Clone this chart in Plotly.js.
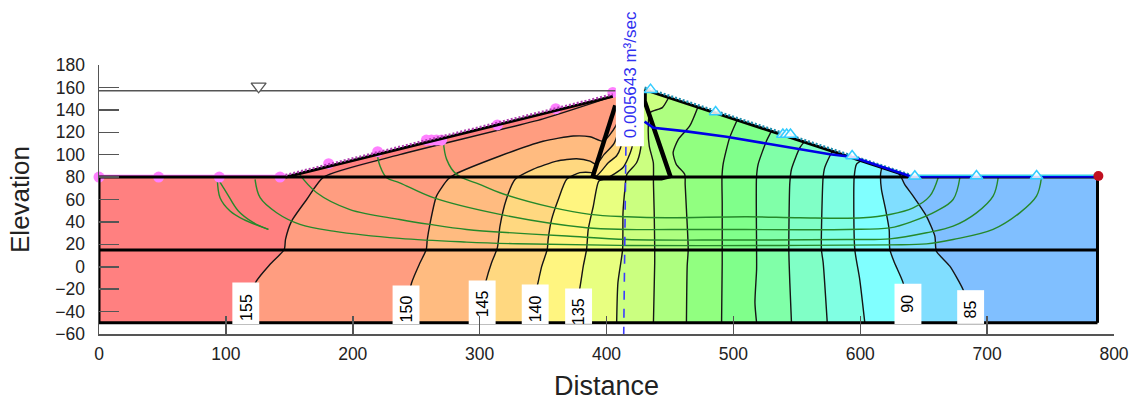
<!DOCTYPE html>
<html><head><meta charset="utf-8">
<script src="https://cdn.plot.ly/plotly-3.0.1.min.js"></script>
<style>html,body{margin:0;padding:0;background:#fff}#g{width:1131px;height:401px}</style>
</head><body><div id="g"></div>
<script>
// ground surface and domain
const surfaceX=[147,405,430,640,787], surfaceY=[80,152,158,80,80];
const domainX=[0,147,405,430,640,787,787,0], domainY=[80,80,152,158,80,80,-50,-50];
const rightEdge=787, bottomEdge=-50, groundLevel=80, layerLevel=15, waterLevel=157;
// head contours: [distance, elevation], bottom to top
const c155=[[112,-50],[124,-12.9],[134.7,2],[146,15.4],[147,24.4],[151.8,40.7],[163.7,60],[177,80],[237,100],[350,132],[405,152]];
const c150=[[240,-50],[246.4,-14.3],[253,3.5],[258,15.5],[258.7,24],[261,39],[266,63],[275,78],[280.5,82.4],[316,98.8],[350,112],[373.8,116.6],[387,116],[397.4,112],[407,125],[416,156]];
const c145=[[298,-50],[305,-12.8],[309.4,3.5],[314,17],[316,36],[321,60],[328,78],[342,86.9],[360.7,94.3],[376.4,96.4],[387,94.3],[392,91.3],[398,100],[406,110],[418,157]];
const c140=[[339,-50],[345.7,-15.8],[349,0.6],[353.3,15.5],[354,24.4],[356.7,42],[362,60],[368.6,78],[379,84],[388,84],[392,81],[401.4,92.8],[408,99],[411,106],[420,157]];
const c135=[[373,-50],[379,-18.8],[381.7,0.6],[384.3,15.5],[385.6,33.3],[389.6,54],[394,76.5],[400,78.8],[413,88.5],[420,106],[423,157]];
const c130=[[408,-50],[409,-14.3],[412.7,15.5],[413,48],[414.5,69],[416,82.4],[423.7,92.8],[427,106],[428,157.5]];
const c125=[[437,-50],[438,3.5],[438,15.5],[437.6,48],[437,75],[436.9,92.8],[433.7,107.7],[432.9,124],[434.2,137.5],[444,142],[449,151]];
const c120=[[463,-50],[463.6,0.6],[464.4,15.5],[463,51],[462,73.5],[461.7,82.4],[455,91.4],[452.5,101.8],[456.6,113.7],[465.6,125.6],[472,142.4]];
const c115=[[490.7,-50],[491.2,3.5],[491.2,15.5],[491.2,57],[491,79.4],[491.9,91.4],[497,115],[503,131]];
const c110=[[518.3,-50],[517,-32],[518.3,-2.4],[518.3,15.5],[518.2,79.4],[519.5,91.4],[526,112],[530,121]];
const c105=[[545.8,-50],[544.5,-14.4],[543.7,15.4],[544.5,75],[545.8,87],[552.3,106],[556,111.6]];
const c100=[[574,-50],[570.8,3.5],[569.4,15.4],[570,60],[570.7,79.4],[572,88.4],[576,98.8],[578,103]];
const c95=[[603.6,-50],[599.6,-11.4],[595.7,15.4],[594.9,60],[595.2,80],[597,91.4],[601,94.6]];
const c90=[[640,-50],[633.8,-14.4],[627,3.5],[623.3,15.4],[622.8,33],[620,51],[616.7,69],[616,82.4],[617,88.6]];
const c85=[[690,-50],[681,-20.3],[670.6,0.5],[660,13.9],[658.8,27.3],[652.2,45],[641.7,63],[635,73.4],[632.5,79.4],[630,83.8]];
const headContours=[c155,c150,c145,c140,c135,c130,c125,c120,c115,c110,c105,c100,c95,c90,c85];
const bandColors=['#ff8080','#ff9d80','#ffbb80','#ffd880','#fff580','#e8ff80','#cbff80','#aeff80','#91ff80','#80ff8b','#80ffa8','#80ffc6','#80ffe3','#80ffff','#80deff','#80bfff'];
// flow paths
const flowA=[[94,78],[100.6,66],[109.8,49.7],[121.7,39.3],[133.5,33.3]];
const flowB=[[93.3,78],[95.4,61.6],[103.3,49.7],[113.8,42.2],[133.5,33.3]];
const flow1=[[271.4,112],[274,95.8],[281.8,82.4],[300,73.5],[316,66],[358,52.7],[387,46.7],[416,44.6],[447.4,43.7],[510.4,44.6],[552.4,43.7],[602.3,43.7],[623.3,46.6],[641.7,52.6],[654.8,63],[661.4,79.4]];
const flow2=[[219,101.8],[221.5,89.8],[226.7,79.4],[237,74.9],[263.5,61.6],[316,46.7],[384.3,34.8],[416,33.3],[473.6,33.3],[589,33.3],[623.3,34.7],[641.7,40.7],[660,49.6],[673.2,60],[678.5,79.4]];
const flow3=[[157,84],[171.6,66],[197.8,51],[237,42.2],[260.8,37.8],[289.7,33.3],[329,30],[368.6,27.4],[416,24.3],[480,23.8],[589,24.3],[623.3,24.9],[652.2,30.3],[673.2,36.2],[691.6,48.1],[704.7,63],[708.7,79.4]];
const flow4=[[123,78],[127,61.6],[140,48.2],[158.4,37.8],[184.7,31.8],[237,25.3],[289.7,22],[330,20.5],[416,19],[536.6,19],[623.3,19.5],[652.2,20.4],[673.2,24.3],[704.7,33.3],[725.7,48.1],[738.9,63],[742.8,79.4]];
const flowPaths=[flowA,flowB,flow1,flow2,flow3,flow4];
// structure
const coreLeft=[[389,80],[407,144]], coreRight=[[430,158],[430,148],[450.5,80]];
const cutoff=[[389,80],[394.8,78],[443.4,78],[450.5,80]];
const phreaticX=[430,437,463,494.5,526,552.3,576,594,640,787], phreaticY=[129.5,124,120.8,116,110,104.7,100.3,98,80.5,80.5];
const fluxLineX=[415.3,413.5], fluxLineY=[107,-67.7];
// boundary-condition markers
const headMarkX=[0,47,94.8,142.7,181,219.6,258,262,266,270,314,360,405], headMarkY=[80,80,80,80,92,102.7,113,113,113,113,126.5,141,155.5];
const seepMarkX=[434.7,486,539,542,545,593.6,643,691.6,739], seepMarkY=[158,138,118,118,118,98.8,80.8,81,81];
const redX=[787.7], redY=[81];
const reservoirX=[125.8], reservoirY=[161];
// labels
const labelText=['155','150','145','140','135','90','85'];
const labelX=[115.7,242,302,343.8,378,637.6,687];
const labelTextY=[-36,-38,-33.4,-37.8,-40,-33,-38.4];
const labelTop=[-14,-16.7,-12.2,-15.8,-19.4,-15.2,-20.9];
const fluxText='0.005643 m³/sec';
const xTicks=[0,100,200,300,400,500,600,700,800];
const yTicks=[180,160,140,120,100,80,60,40,20,0,-20,-40,-60];

const xs=p=>p.map(q=>q[0]), ys=p=>p.map(q=>q[1]);
const traces=[];
const fillT=(x,y,c)=>traces.push({x,y,type:'scatter',mode:'lines',fill:'toself',fillcolor:c,line:{width:0},hoverinfo:'skip'});
const lineT=(x,y,c,w,dash)=>traces.push({x,y,type:'scatter',mode:'lines',line:{color:c,width:w,dash:dash||'solid'},hoverinfo:'skip'});
const curveT=(x,y,c,w,sm)=>traces.push({x,y,type:'scatter',mode:'lines',line:{color:c,width:w,shape:'spline',smoothing:sm},hoverinfo:'skip'});
const markT=(x,y,sym,size,fc,lc,lw)=>traces.push({x,y,type:'scatter',mode:'markers',cliponaxis:false,marker:{symbol:sym,size,color:fc,line:{color:lc,width:lw}},hoverinfo:'skip'});

fillT(domainX,domainY,bandColors[0]);
headContours.forEach((c,i)=>{
  const lastX=c[c.length-1][0];
  const tx=[],ty=[];
  surfaceX.forEach((sx,j)=>{if(sx>lastX){tx.push(sx);ty.push(surfaceY[j]);}});
  fillT(xs(c).concat(tx,[rightEdge]),ys(c).concat(ty,[bottomEdge]),bandColors[i+1]);
});
headContours.forEach(c=>curveT(xs(c),ys(c),'#151515',1.4,0.6));
flowPaths.forEach(f=>curveT(xs(f),ys(f),'#25892a',1.4,1));
markT(headMarkX,headMarkY,'circle',11,'#ff80ff','#ff80ff',0);
// section boundaries
lineT([0,147],[81.3,81.3],'#ff66ff',1.8);
lineT([0,rightEdge],[groundLevel,groundLevel],'#000',3);
lineT([0,rightEdge],[layerLevel,layerLevel],'#000',3);
lineT([0,rightEdge],[bottomEdge,bottomEdge],'#000',3);
lineT([0,0],[groundLevel,bottomEdge],'#000',3);
lineT([rightEdge,rightEdge],[groundLevel,bottomEdge],'#000',3);
lineT(surfaceX.slice(0,2),surfaceY.slice(0,2),'#000',3);
lineT(surfaceX.slice(0,2),surfaceY.slice(0,2).map(v=>v+1.8),'#b040b0',2.5,'2px,2px');
lineT(surfaceX.slice(2,4),surfaceY.slice(2,4),'#000',3);
lineT(surfaceX.slice(2,4),surfaceY.slice(2,4).map(v=>v+1.8),'#1f8fb0',2.5,'2px,2px');
lineT(xs(coreLeft),ys(coreLeft),'#000',4.5);
lineT(xs(coreRight),ys(coreRight),'#000',4.5);
lineT(xs(cutoff),ys(cutoff),'#000',2.5);
lineT(phreaticX,phreaticY,'#0000e6',2.6);
lineT([640,rightEdge],[81.6,81.6],'#35cfe8',1.5);
lineT([0,407],[waterLevel,waterLevel],'#555',1.5);
lineT(fluxLineX,fluxLineY,'#3c3cff',1.6,'dash');
traces[traces.length-1].cliponaxis=false;
markT(reservoirX,reservoirY,'triangle-down',13,'#fff','#555',1.3);
markT(seepMarkX,seepMarkY,'triangle-up',11,'rgba(255,255,255,0.85)','#33ccff',1.5);
markT(redX,redY,'circle',10,'#c01020','#c01020',0);
// white label backings
labelX.forEach((x,i)=>fillT([x-10.6,x+10.6,x+10.6,x-10.6,x-10.6],[labelTop[i],labelTop[i],-51,-51,labelTop[i]],'#fff'));
fillT([407.4,429.5,429.5,407.4,407.4],[107.5,107.5,180,180,107.5],'#fff');

const ann=labelText.map((t,i)=>({x:labelX[i],y:labelTextY[i],xref:'x',yref:'y',text:t,showarrow:false,textangle:-90,xanchor:'center',yanchor:'middle',font:{family:'"Liberation Sans",Arial,sans-serif',size:16,color:'#000'}}));
ann.push({x:418.6,y:171,xref:'x',yref:'y',text:fluxText,showarrow:false,textangle:-90,xanchor:'center',yanchor:'middle',font:{family:'"Liberation Sans",Arial,sans-serif',size:17,color:'#3030f0'}});

const axFont={family:'"Liberation Sans",Arial,sans-serif',size:17.5,color:'#222'};
const layout={
  width:1131,height:401,paper_bgcolor:'#fff',plot_bgcolor:'#fff',showlegend:false,
  margin:{l:99,r:17,t:65,b:67},
  xaxis:{range:[0,800],tickmode:'array',tickvals:xTicks,ticks:'inside',ticklen:18,tickwidth:1.5,tickcolor:'#555',showline:true,linecolor:'#555',linewidth:1.5,showgrid:false,zeroline:false,tickfont:axFont,ticklabelstandoff:3,
    title:{text:'Distance',font:{family:'"Liberation Sans",Arial,sans-serif',size:27,color:'#222'},standoff:20}},
  yaxis:{range:[-60,180],tickmode:'array',tickvals:yTicks,ticks:'inside',ticklen:20,tickwidth:1.5,tickcolor:'#555',showline:true,linecolor:'#555',linewidth:1.5,showgrid:false,zeroline:false,tickfont:axFont,ticklabelstandoff:9,
    title:{text:'Elevation',font:{family:'"Liberation Sans",Arial,sans-serif',size:26,color:'#222'},standoff:18}},
  annotations:ann
};
Plotly.newPlot('g',traces,layout,{displayModeBar:false,staticPlot:true});
</script></body></html>
